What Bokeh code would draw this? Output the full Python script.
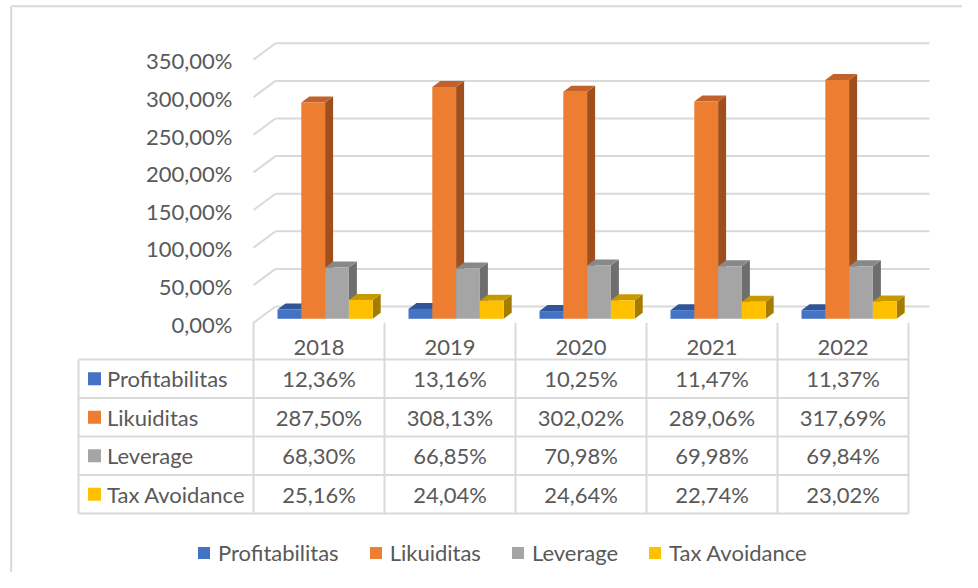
from bokeh.plotting import figure
from bokeh.models import Range1d, Legend, LegendItem
from bokeh.core.properties import value
from bokeh.embed import file_html
from bokeh.resources import INLINE

# ---------------- data ----------------
years = ["2018", "2019", "2020", "2021", "2022"]
series_names = ["Profitabilitas", "Likuiditas", "Leverage", "Tax Avoidance"]
profitabilitas = [12.36, 13.16, 10.25, 11.47, 11.37]
likuiditas = [287.50, 308.13, 302.02, 289.06, 317.69]
leverage = [68.30, 66.85, 70.98, 69.98, 69.84]
tax_avoidance = [25.16, 24.04, 24.64, 22.74, 23.02]
y_ticks = [0, 50, 100, 150, 200, 250, 300, 350]
y_tick_labels = ["0,00%", "50,00%", "100,00%", "150,00%", "200,00%",
                 "250,00%", "300,00%", "350,00%"]

series_values = [profitabilitas, likuiditas, leverage, tax_avoidance]
front_colors = ["#4472C4", "#ED7D31", "#A5A5A5", "#FFC000"]
top_colors = ["#2F5597", "#C2622A", "#888888", "#C89800"]
side_colors = ["#28488A", "#9E4F1D", "#6E6E6E", "#A47D00"]

FONT = "Lato"
FS = "22px"
TXT = "#595959"
GRID = "#D9D9D9"

# ---------------- layout scales ----------------
W, H = 962, 572
PXX = 1.0 / 131.0          # category units per pixel
PXY = 1.0 / 0.752          # percent units per pixel
ROW = 38.5                 # table row height in px
X0_IMG = 253.0             # x of category 0 left edge
Y0_IMG = 318.3             # y of 0 % (bar front)
T0_IMG = 359.0             # y of table header bottom line


def xu(img_x):
    return (img_x - X0_IMG) * PXX


def yu(img_y):
    return (Y0_IMG - img_y) * PXY


def tu(img_y):
    return (T0_IMG - img_y) / ROW


p = figure(width=W, height=H, output_backend="svg", toolbar_location=None,
           x_range=Range1d(xu(0), xu(W)), y_range=Range1d(yu(H), yu(0)),
           x_axis_location=None, y_axis_location=None, min_border=0)
p.extra_y_ranges = {"tbl": Range1d(tu(H), tu(0))}
p.grid.visible = False
p.outline_line_color = None
p.background_fill_color = "white"

# outer chart border (left and top visible)
p.segment(x0=[xu(10.7), xu(10.7)], y0=[yu(5.7), yu(5.7)],
          x1=[xu(10.7), xu(W + 5)], y1=[yu(H + 5), yu(5.7)],
          line_color=GRID, line_width=2)

# ---------------- 3D walls / gridlines ----------------
BW_X0 = 22 * PXX             # back wall left (depth shift in x)
BW_X1 = xu(929)              # back wall right end
BW_DY = 12.3 * PXY           # back wall rise
FR_DY = -4 * PXY             # front edge drop

gx0, gy0, gx1, gy1 = [], [], [], []
for t in y_ticks:
    gx0.append(BW_X0); gy0.append(t + BW_DY); gx1.append(BW_X1); gy1.append(t + BW_DY)
    gx0.append(0.0); gy0.append(t + FR_DY); gx1.append(BW_X0); gy1.append(t + BW_DY)
p.segment(x0=gx0, y0=gy0, x1=gx1, y1=gy1, line_color=GRID, line_width=2)

# y tick labels
p.text(x=[xu(232)] * len(y_ticks), y=[t - 7 for t in y_ticks], text=y_tick_labels,
       text_font=value(FONT), text_font_size=FS, text_color=TXT,
       text_align="right", text_baseline="middle")

# ---------------- 3D bars ----------------
BAR_OFF = 24.0
BAR_W = 23.8
DX = 8 * PXX
DY = 6 * PXY

side_xs, side_ys, side_c = [], [], []
top_xs, top_ys, top_c = [], [], []
fl, fr, ft, fc = [], [], [], []
for j, vals in enumerate(series_values):
    for i, v in enumerate(vals):
        xl = i + (BAR_OFF + BAR_W * j) * PXX
        xr = xl + BAR_W * PXX
        side_xs.append([xr, xr + DX, xr + DX, xr])
        side_ys.append([0, DY, v + DY, v])
        side_c.append(side_colors[j])
        top_xs.append([xl, xr, xr + DX, xl + DX])
        top_ys.append([v, v, v + DY, v + DY])
        top_c.append(top_colors[j])
        fl.append(xl); fr.append(xr); ft.append(v); fc.append(front_colors[j])

p.patches(xs=side_xs, ys=side_ys, fill_color=side_c, line_color=None)
p.patches(xs=top_xs, ys=top_ys, fill_color=top_c, line_color=None)
p.quad(left=fl, right=fr, bottom=[0] * len(fl), top=ft, fill_color=fc, line_color=None)

# ---------------- data table ----------------
n_rows = len(series_names)
tx_left = xu(78)
hx0, hy0, hx1, hy1 = [], [], [], []
for k in range(n_rows + 1):
    hx0.append(tx_left); hx1.append(len(years)); hy0.append(-k); hy1.append(-k)
for c in range(len(years) + 1):
    hx0.append(c); hx1.append(c); hy0.append(tu(322.3)); hy1.append(-n_rows)
hx0.append(tx_left); hx1.append(tx_left); hy0.append(0); hy1.append(-n_rows)
p.segment(x0=hx0, y0=hy0, x1=hx1, y1=hy1, line_color=GRID, line_width=2,
          y_range_name="tbl")

# header years
p.text(x=[i + 0.5 for i in range(len(years))], y=[tu(346.5)] * len(years), text=years,
       text_font=value(FONT), text_font_size=FS, text_color=TXT,
       text_align="center", text_baseline="middle", y_range_name="tbl")

# cell values
cx, cy, ctext = [], [], []
for k, vals in enumerate(series_values):
    for i, v in enumerate(vals):
        cx.append(i + 0.5)
        cy.append(-(k + 0.5))
        ctext.append(("%.2f" % v).replace(".", ",") + "%")
p.text(x=cx, y=cy, text=ctext, text_font=value(FONT), text_font_size=FS,
       text_color=TXT, text_align="center", text_baseline="middle", y_range_name="tbl")

# row labels with colour keys
SQ = 13.0
sq_renderers = []
for k, name in enumerate(series_names):
    cyk = -(k + 0.5)
    r = p.quad(left=[xu(87.5)], right=[xu(87.5 + SQ)], bottom=[cyk - SQ / 2 / ROW],
               top=[cyk + SQ / 2 / ROW], fill_color=front_colors[k], line_color=None,
               y_range_name="tbl")
    sq_renderers.append(r)
p.text(x=[xu(106.5)] * n_rows, y=[-(k + 0.5) for k in range(n_rows)], text=series_names,
       text_font=value(FONT), text_font_size=FS, text_color=TXT,
       text_align="left", text_baseline="middle", y_range_name="tbl")

# ---------------- legend ----------------
legend = Legend(items=[LegendItem(label=series_names[k], renderers=[sq_renderers[k]])
                       for k in range(n_rows)],
                orientation="horizontal", location=(196, 6),
                glyph_width=15, glyph_height=15, label_standoff=7, spacing=29,
                padding=0, margin=0, border_line_color=None, background_fill_alpha=0,
                label_text_font=FONT, label_text_font_size=FS,
                label_text_color=TXT, label_height=20)
p.add_layout(legend)

open("out.html", "w").write(file_html(p, INLINE))
